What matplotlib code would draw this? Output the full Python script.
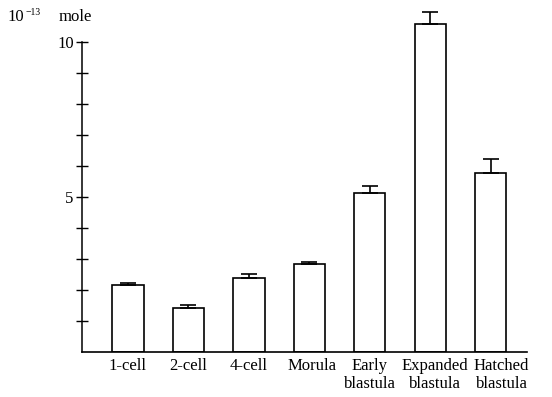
import numpy as np
import matplotlib
matplotlib.use("Agg")
import matplotlib.pyplot as plt
from matplotlib.transforms import ScaledTranslation

# values (units of 10^-13 mole)
stages = ["1-cell", "2-cell", "4-cell", "Morula", "Early\nblastula",
          "Expanded\nblastula", "Hatched\nblastula"]
amounts = [2.16, 1.42, 2.38, 2.84, 5.13, 10.58, 5.77]
errors = [0.05, 0.10, 0.13, 0.06, 0.23, 0.39, 0.45]
ytick_vals = list(range(1, 11))
ytick_text = ["" if v not in (5, 10) else str(v) for v in ytick_vals]

plt.rcParams['font.family'] = ['Liberation Serif', 'DejaVu Serif']

fig = plt.figure(figsize=(5.52, 3.97), dpi=100)
ax = fig.add_axes([0.1486, 0.1134, 0.806, 0.859])

x = np.arange(len(stages))
ax.bar(x, amounts, width=0.52, color="white", edgecolor="black", linewidth=1.2)
ax.errorbar(x, amounts, yerr=[np.zeros(len(errors)), errors], fmt="none",
            ecolor="black", elinewidth=1.2, capsize=6, capthick=1.2)

ax.set_xlim(-0.76, 6.6)
ax.set_ylim(0, 11)
ax.spines["top"].set_visible(False)
ax.spines["right"].set_visible(False)
ax.spines["left"].set_linewidth(1.1)
ax.spines["left"].set_bounds(0, 10)
ax.spines["bottom"].set_linewidth(1.2)

ax.set_yticks(ytick_vals)
ax.set_yticklabels(ytick_text, fontsize=12)
ax.tick_params(axis="y", direction="inout", length=8, width=1.0, pad=2)

ax.set_xticks(x)
ax.set_xticklabels(stages, fontsize=12, linespacing=1.2)
ax.tick_params(axis="x", length=0, pad=4)

# the last labels sit a little right of their bars in the original
nudges = [0, 0, 0, 3, 0, 5, 11]
for lab, dx in zip(ax.get_xticklabels(), nudges):
    lab.set_transform(lab.get_transform() + ScaledTranslation(dx / 100, 0, fig.dpi_scale_trans))

# unit label in the top left corner
fig.text(0.014, 0.958, "10", fontsize=12, ha="left", va="center")
fig.text(0.047, 0.968, "\u221213", fontsize=7, ha="left", va="center")
fig.text(0.106, 0.956, "mole", fontsize=12, ha="left", va="center")

fig.savefig("out.png", dpi=100)
